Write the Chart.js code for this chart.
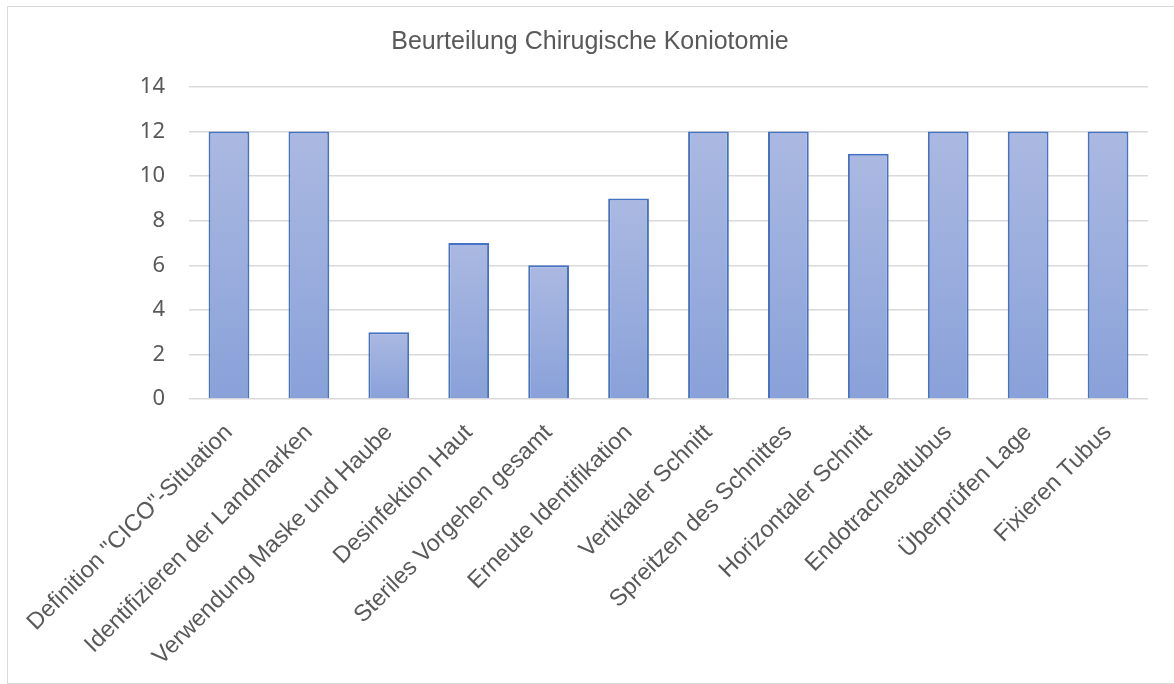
<!DOCTYPE html>
<html>
<head>
<meta charset="utf-8">
<script src="https://cdn.jsdelivr.net/npm/chart.js@4.4.0/dist/chart.umd.min.js"></script>
<style>
    html, body { margin: 0; padding: 0; background: #fff; overflow: hidden; }
    #frame { position: absolute; left: 7px; top: 6px; width: 1200px; height: 676px; border: 1px solid #d9d9d9; }
    #wrap { position: absolute; left: 0; top: 0; width: 1174px; height: 684px; }
</style>
</head>
<body>
<div id="frame"></div>
<div id="wrap"><canvas id="chart"></canvas></div>
<script>
const categories = [
    'Definition "CICO"-Situation',
    'Identifizieren der Landmarken',
    'Verwendung Maske und Haube',
    'Desinfektion Haut',
    'Steriles Vorgehen gesamt',
    'Erneute Identifikation',
    'Vertikaler Schnitt',
    'Spreitzen des Schnittes',
    'Horizontaler Schnitt',
    'Endotrachealtubus',
    'Überprüfen Lage',
    'Fixieren Tubus'
];
const counts = [12, 12, 3, 7, 6, 9, 12, 12, 11, 12, 12, 12];
const chartTitle = 'Beurteilung Chirugische Koniotomie';
const yMax = 14;
const yStep = 2;

// each bar gets its own gradient, lighter at its top
function barGradient(ctx) {
    const chart = ctx.chart;
    const area = chart.chartArea;
    if (!area || !chart.scales.y) return '#98acdc';
    const top = chart.scales.y.getPixelForValue(ctx.raw);
    const bottom = chart.scales.y.getPixelForValue(0);
    const g = chart.ctx.createLinearGradient(0, top, 0, bottom);
    g.addColorStop(0, '#abb9e1');
    g.addColorStop(1, '#89a1d9');
    return g;
}

new Chart(document.getElementById('chart'), {
    type: 'bar',
    data: {
        labels: categories,
        datasets: [{
            data: counts,
            backgroundColor: barGradient,
            borderColor: '#4472c4',
            borderWidth: 2,
            barPercentage: 0.51,
            categoryPercentage: 1
        }]
    },
    options: {
        responsive: true,
        maintainAspectRatio: false,
        animation: false,
        layout: { padding: { left: 32, right: 26, top: 0, bottom: 0 } },
        plugins: {
            legend: { display: false },
            tooltip: { enabled: false },
            title: {
                display: true,
                text: chartTitle,
                color: '#595959',
                font: { family: 'Liberation Sans', size: 25, weight: 'normal', lineHeight: 1.2 },
                padding: { top: 27, bottom: 30 }
            }
        },
        scales: {
            x: {
                grid: { display: false },
                border: { display: false },
                ticks: {
                    autoSkip: false,
                    minRotation: 45,
                    maxRotation: 45,
                    padding: 12,
                    color: '#595959',
                    font: { family: 'Liberation Sans', size: 23.5 }
                },
                afterFit: axis => { axis.height = 285; }
            },
            y: {
                min: 0,
                max: yMax,
                grid: { color: '#d9d9d9', lineWidth: 1.5, drawTicks: false },
                border: { display: false },
                ticks: {
                    stepSize: yStep,
                    padding: 24,
                    color: '#595959',
                    font: { family: 'Noto Sans', size: 22 }
                },
                afterFit: axis => { axis.width = 157; }
            }
        }
    }
});
</script>
</body>
</html>
